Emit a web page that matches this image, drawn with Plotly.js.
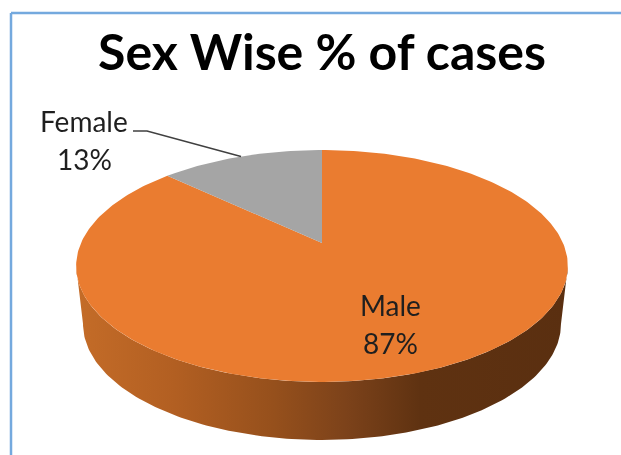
<!DOCTYPE html>
<html>
<head>
<meta charset="utf-8">
<script src="https://cdn.plot.ly/plotly-3.0.1.min.js"></script>
<style>html,body{margin:0;padding:0;background:#fff}#chart{width:621px;height:455px;filter:blur(0.6px)}</style>
</head>
<body>
<div id="chart"></div>
<script>
// Data
const categories = ["Female", "Male"];
const shares = [13, 87];
const chartTitle = "Sex Wise % of cases";

// Style and projection of the tilted disc (pixel-mapped axes)
const sliceColors = {Female: "#a5a5a5", Male: "#ea7c30"};
const wallStops = [[0,"#c46c28"],[0.2,"#b25f22"],[0.4,"#96501c"],[0.55,"#7c421a"],[0.7,"#5f3211"],[1,"#5a2f10"]];
const apex = {x: 322, y: 243};
const scaleX = 241, scaleY = 111.4, persp = 0.198;
const depth = 58, wallShrink = 0.972;

// Share-of-circle (0..1, counter-clockwise from the top) -> projected point
function project(f) {
  const a = 2 * Math.PI * f, X = -Math.sin(a), Y = Math.cos(a), d = 1 + persp * Y;
  return {x: apex.x + scaleX * X / d, y: apex.y - scaleY * Y / d};
}
function arc(f0, f1) {
  const out = [], n = Math.ceil(Math.abs(f1 - f0) * 360);
  for (let i = 0; i <= n; i++) out.push(project(f0 + (f1 - f0) * i / n));
  return out;
}
const total = shares.reduce((a, b) => a + b, 0);
const femaleFrac = shares[0] / total;

const traces = [];
function poly(pts, color, name, extra) {
  traces.push(Object.assign({
    type: "scatter", mode: "lines", x: pts.map(p => p.x), y: pts.map(p => p.y),
    fill: "toself", fillcolor: color, line: {width: 0, color: color},
    name: name, hoverinfo: "name", showlegend: false
  }, extra || {}));
}

// Side wall: front of the rim between its left and right silhouette points, extruded downward
const silhouette = Math.acos(-persp) / (2 * Math.PI);
const frontTopEdge = arc(silhouette, 1 - silhouette);
const bottomEdge = frontTopEdge.map(p => ({
  x: apex.x + (p.x - apex.x) * wallShrink,
  y: p.y + depth
})).reverse();
poly(frontTopEdge.concat(bottomEdge), "#8a4a1c", "Male", {
  fillgradient: {type: "horizontal", colorscale: wallStops}
});

// Top face slices
poly([apex].concat(arc(femaleFrac, 1)).concat([apex]), sliceColors.Male, categories[1] + " " + shares[1] + "%");
poly([apex].concat(arc(0, femaleFrac)).concat([apex]), sliceColors.Female, categories[0] + " " + shares[0] + "%");

// Leader line to the middle of the Female arc
const mid = project(femaleFrac / 2);
traces.push({type: "scatter", mode: "lines", x: [133, 147, mid.x], y: [131, 131, mid.y],
  line: {color: "#404040", width: 1.5}, hoverinfo: "skip", showlegend: false});

const labelFont = {family: "Lato, Carlito, sans-serif", size: 28, color: "#1f1f1f"};
function label(text, x, y) {
  return {text: text, x: x, y: y, xref: "x", yref: "y", showarrow: false,
    xanchor: "center", yanchor: "middle", font: labelFont};
}
const frameColor = "#74a9de";
const layout = {
  width: 621, height: 455,
  margin: {l: 0, r: 0, t: 0, b: 0},
  paper_bgcolor: "#ffffff", plot_bgcolor: "#ffffff",
  showlegend: false,
  title: {text: chartTitle, x: 322 / 621, xanchor: "center", y: 1 - 52 / 455, yanchor: "middle",
    font: {family: "Lato, Carlito, sans-serif", size: 50, weight: 700, color: "#000000"}},
  xaxis: {range: [0, 621], visible: false, fixedrange: true},
  yaxis: {range: [455, 0], visible: false, fixedrange: true},
  shapes: [
    {type: "line", xref: "x", yref: "y", x0: 11, x1: 621, y0: 13, y1: 13, line: {color: frameColor, width: 2.5}},
    {type: "line", xref: "x", yref: "y", x0: 11, x1: 11, y0: 13, y1: 455, line: {color: frameColor, width: 2.5}}
  ],
  annotations: [
    label(categories[0], 84, 121),
    label(shares[0] + "%", 84, 159),
    label(categories[1], 390, 305),
    label(shares[1] + "%", 390, 343)
  ]
};
Plotly.newPlot("chart", traces, layout, {displayModeBar: false, staticPlot: true});
</script>
</body>
</html>
